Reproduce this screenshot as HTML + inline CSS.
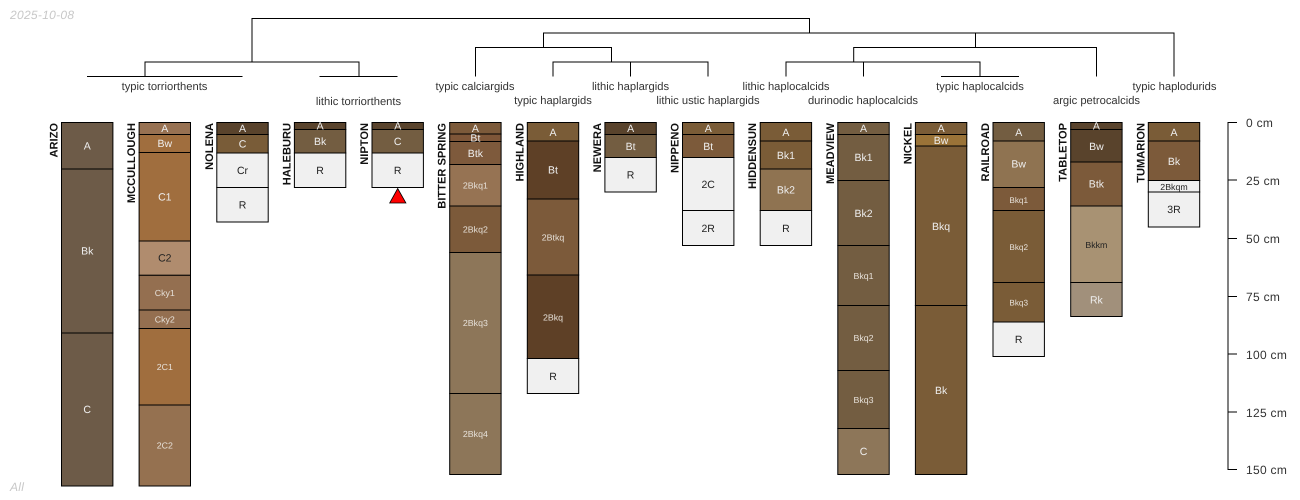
<!DOCTYPE html>
<html><head><meta charset="utf-8"><style>
html,body{margin:0;padding:0;background:#fff;width:1300px;height:500px;overflow:hidden}
svg{display:block;font-family:"Liberation Sans",Arial,sans-serif;text-rendering:geometricPrecision}
.h rect{stroke:#000;stroke-width:1}
.h text{font-size:10.5px;fill:#eee;text-anchor:middle}
.h text.s{font-size:8.8px;fill:#e6e0d8}
.h text.d{fill:#222}
.h text.n{font-size:11.1px;font-weight:bold;text-anchor:end;fill:#111}
.t{font-size:11.2px;fill:#333;text-anchor:middle}
.a{font-size:12px;fill:#333;letter-spacing:.3px}
.i{font-size:12px;font-style:italic;fill:#c8c8c8;letter-spacing:.3px}
.l{stroke:#000;stroke-width:1;fill:none}
</style></head><body>
<svg width="1300" height="500" viewBox="0 0 1300 500" xmlns="http://www.w3.org/2000/svg">
<text class="i" x="10" y="19">2025-10-08</text>
<text class="i" x="10" y="491">All</text>

<!-- dendrogram -->
<path class="l" d="M252 62V18.5H809.5V33M145 76.5V62H359V76.5M87 76.5H242.5M319.5 76.5H397.5
M543.5 47.5V33H1174V76.5M475.5 76.5V47.5H611.5V62M553 76.5V62H708V76.5
M853.7 62V47.5H1096.5V76.5M786 76.5V62H980V76.5M941 76.5H1019"/>
<path class="l" d="M630.5 76.5V62H669.5"/>
<path class="l" d="M975.5 47.5V33H1075"/>
<path class="l" d="M863.5 76.5V62H921.5"/>

<text class="t" x="164.5" y="90">typic torriorthents</text>
<text class="t" x="358.5" y="105">lithic torriorthents</text>
<text class="t" x="475" y="90">typic calciargids</text>
<text class="t" x="553" y="104">typic haplargids</text>
<text class="t" x="630.5" y="90">lithic haplargids</text>
<text class="t" x="708" y="104">lithic ustic haplargids</text>
<text class="t" x="786" y="90">lithic haplocalcids</text>
<text class="t" x="863" y="104">durinodic haplocalcids</text>
<text class="t" x="980" y="90">typic haplocalcids</text>
<text class="t" x="1096.5" y="104">argic petrocalcids</text>
<text class="t" x="1174.5" y="90">typic haplodurids</text>

<!-- ARIZO -->
<g class="h" transform="translate(61.5,0)">
<rect y="122.5" width="51.4" height="46.5" fill="#6d5b48"/><rect y="169" width="51.4" height="164" fill="#6d5b48"/><rect y="333" width="51.4" height="153" fill="#6d5b48"/>
<text x="25.7" y="149.3">A</text><text x="25.7" y="254.5">Bk</text><text x="25.7" y="413">C</text>
<text class="n" transform="translate(-4,123) rotate(-90)">ARIZO</text></g>

<!-- MCCULLOUGH -->
<g class="h" transform="translate(139.1,0)">
<rect y="122.5" width="51.4" height="12" fill="#977152"/><rect y="134.5" width="51.4" height="18" fill="#a06e3e"/><rect y="152.5" width="51.4" height="88.5" fill="#a06e3e"/><rect y="241" width="51.4" height="34.3" fill="#b08c6e"/><rect y="275.3" width="51.4" height="34.7" fill="#946f50"/><rect y="310" width="51.4" height="18.5" fill="#946f50"/><rect y="328.5" width="51.4" height="76.5" fill="#a06e3e"/><rect y="405" width="51.4" height="81" fill="#957150"/>
<text x="25.7" y="132">A</text><text x="25.7" y="147">Bw</text><text x="25.7" y="200.3">C1</text><text class="d" x="25.7" y="261.6">C2</text><text class="s" x="25.7" y="296">Cky1</text><text class="s" x="25.7" y="322.7">Cky2</text><text class="s" x="25.7" y="370">2C1</text><text class="s" x="25.7" y="448.5">2C2</text>
<text class="n" transform="translate(-4,123) rotate(-90)">MCCULLOUGH</text></g>

<!-- NOLENA -->
<g class="h" transform="translate(216.8,0)">
<rect y="122.5" width="51.4" height="12" fill="#59432c"/><rect y="134.5" width="51.4" height="18.5" fill="#795c38"/><rect y="153" width="51.4" height="34.5" fill="#f0f0f0"/><rect y="187.5" width="51.4" height="34.5" fill="#f0f0f0"/>
<text x="25.7" y="132">A</text><text x="25.7" y="147.5">C</text><text class="d" x="25.7" y="174">Cr</text><text class="d" x="25.7" y="208.5">R</text>
<text class="n" transform="translate(-4,123) rotate(-90)">NOLENA</text></g>

<!-- HALEBURU -->
<g class="h" transform="translate(294.4,0)">
<rect y="122.5" width="51.4" height="7" fill="#59432c"/><rect y="129.5" width="51.4" height="23.5" fill="#735d41"/><rect y="153" width="51.4" height="34.5" fill="#f0f0f0"/>
<text x="25.7" y="129.5">A</text><text x="25.7" y="145">Bk</text><text class="d" x="25.7" y="174">R</text>
<text class="n" transform="translate(-4,123) rotate(-90)">HALEBURU</text></g>

<!-- NIPTON -->
<g class="h" transform="translate(372,0)">
<rect y="122.5" width="51.4" height="7" fill="#59432c"/><rect y="129.5" width="51.4" height="23.5" fill="#735d41"/><rect y="153" width="51.4" height="34.5" fill="#f0f0f0"/>
<text x="25.7" y="129.5">A</text><text x="25.7" y="145">C</text><text class="d" x="25.7" y="174">R</text>
<text class="n" transform="translate(-4,123) rotate(-90)">NIPTON</text></g>
<polygon points="397.7,188.5 389.7,203 405.9,203" fill="#f00" stroke="#000" stroke-width=".8"/>

<!-- BITTER SPRING -->
<g class="h" transform="translate(449.7,0)">
<rect y="122.5" width="51.4" height="11.5" fill="#7c5a3a"/><rect y="134" width="51.4" height="7.5" fill="#7e5638"/><rect y="141.5" width="51.4" height="23" fill="#7e5a3c"/><rect y="164.5" width="51.4" height="41.5" fill="#967353"/><rect y="206" width="51.4" height="46.5" fill="#7c5a3a"/><rect y="252.5" width="51.4" height="141" fill="#8d7659"/><rect y="393.5" width="51.4" height="81" fill="#8d7659"/>
<text x="25.7" y="132">A</text><text x="25.7" y="141.5">Bt</text><text x="25.7" y="156.8">Btk</text><text class="s" x="25.7" y="188.5">2Bkq1</text><text class="s" x="25.7" y="232.5">2Bkq2</text><text class="s" x="25.7" y="326">2Bkq3</text><text class="s" x="25.7" y="437">2Bkq4</text>
<text class="n" transform="translate(-4,123) rotate(-90)">BITTER SPRING</text></g>

<!-- HIGHLAND -->
<g class="h" transform="translate(527.3,0)">
<rect y="122.5" width="51.4" height="18.5" fill="#7a5c37"/><rect y="141" width="51.4" height="58" fill="#5e4026"/><rect y="199" width="51.4" height="76" fill="#7c5a3a"/><rect y="275" width="51.4" height="83.5" fill="#5e4026"/><rect y="358.5" width="51.4" height="35" fill="#f0f0f0"/>
<text x="25.7" y="136">A</text><text x="25.7" y="173.5">Bt</text><text class="s" x="25.7" y="240.5">2Btkq</text><text class="s" x="25.7" y="320.5">2Bkq</text><text class="d" x="25.7" y="380">R</text>
<text class="n" transform="translate(-4,123) rotate(-90)">HIGHLAND</text></g>

<!-- NEWERA -->
<g class="h" transform="translate(604.9,0)">
<rect y="122.5" width="51.4" height="12" fill="#59432c"/><rect y="134.5" width="51.4" height="23" fill="#735d41"/><rect y="157.5" width="51.4" height="34.5" fill="#f0f0f0"/>
<text x="25.7" y="132">A</text><text x="25.7" y="150">Bt</text><text class="d" x="25.7" y="178.5">R</text>
<text class="n" transform="translate(-4,123) rotate(-90)">NEWERA</text></g>

<!-- NIPPENO -->
<g class="h" transform="translate(682.5,0)">
<rect y="122.5" width="51.4" height="12" fill="#7a5c37"/><rect y="134.5" width="51.4" height="23" fill="#7c5a3a"/><rect y="157.5" width="51.4" height="53" fill="#f0f0f0"/><rect y="210.5" width="51.4" height="35" fill="#f0f0f0"/>
<text x="25.7" y="132">A</text><text x="25.7" y="150">Bt</text><text class="d" x="25.7" y="188">2C</text><text class="d" x="25.7" y="232">2R</text>
<text class="n" transform="translate(-4,123) rotate(-90)">NIPPENO</text></g>

<!-- HIDDENSUN -->
<g class="h" transform="translate(760.2,0)">
<rect y="122.5" width="51.4" height="18.5" fill="#7a5c37"/><rect y="141" width="51.4" height="28" fill="#7a5c37"/><rect y="169" width="51.4" height="41.5" fill="#8f7351"/><rect y="210.5" width="51.4" height="35" fill="#f0f0f0"/>
<text x="25.7" y="136">A</text><text x="25.7" y="158.8">Bk1</text><text x="25.7" y="193.5">Bk2</text><text class="d" x="25.7" y="232">R</text>
<text class="n" transform="translate(-4,123) rotate(-90)">HIDDENSUN</text></g>

<!-- MEADVIEW -->
<g class="h" transform="translate(837.8,0)">
<rect y="122.5" width="51.4" height="12" fill="#735d41"/><rect y="134.5" width="51.4" height="46" fill="#735d41"/><rect y="180.5" width="51.4" height="65" fill="#735d41"/><rect y="245.5" width="51.4" height="60" fill="#735d41"/><rect y="305.5" width="51.4" height="65" fill="#735d41"/><rect y="370.5" width="51.4" height="58" fill="#735d41"/><rect y="428.5" width="51.4" height="46" fill="#8d7659"/>
<text x="25.7" y="132">A</text><text x="25.7" y="161">Bk1</text><text x="25.7" y="217">Bk2</text><text class="s" x="25.7" y="279">Bkq1</text><text class="s" x="25.7" y="341">Bkq2</text><text class="s" x="25.7" y="403">Bkq3</text><text x="25.7" y="455">C</text>
<text class="n" transform="translate(-4,123) rotate(-90)">MEADVIEW</text></g>

<!-- NICKEL -->
<g class="h" transform="translate(915.4,0)">
<rect y="122.5" width="51.4" height="12" fill="#7a5c37"/><rect y="134.5" width="51.4" height="11.5" fill="#9a7338"/><rect y="146" width="51.4" height="159.5" fill="#7a5c37"/><rect y="305.5" width="51.4" height="169" fill="#7a5c37"/>
<text x="25.7" y="132">A</text><text x="25.7" y="144">Bw</text><text x="25.7" y="230">Bkq</text><text x="25.7" y="394">Bk</text>
<text class="n" transform="translate(-4,123) rotate(-90)">NICKEL</text></g>

<!-- RAILROAD -->
<g class="h" transform="translate(993,0)">
<rect y="122.5" width="51.4" height="18.5" fill="#735d41"/><rect y="141" width="51.4" height="46.5" fill="#8f7351"/><rect y="187.5" width="51.4" height="23" fill="#7c5a3a"/><rect y="210.5" width="51.4" height="72" fill="#7a5c37"/><rect y="282.5" width="51.4" height="39.5" fill="#7a5c37"/><rect y="322" width="51.4" height="34.5" fill="#f0f0f0"/>
<text x="25.7" y="136">A</text><text x="25.7" y="167.5">Bw</text><text class="s" x="25.7" y="203" style="font-size:8.2px">Bkq1</text><text class="s" x="25.7" y="250" style="font-size:8.2px">Bkq2</text><text class="s" x="25.7" y="305.5" style="font-size:8.2px">Bkq3</text><text class="d" x="25.7" y="343">R</text>
<text class="n" transform="translate(-4,123) rotate(-90)">RAILROAD</text></g>

<!-- TABLETOP -->
<g class="h" transform="translate(1070.7,0)">
<rect y="122.5" width="51.4" height="7" fill="#59432c"/><rect y="129.5" width="51.4" height="32.5" fill="#59432c"/><rect y="162" width="51.4" height="44" fill="#7c5a3a"/><rect y="206" width="51.4" height="76.5" fill="#a89273"/><rect y="282.5" width="51.4" height="34" fill="#a1907b"/>
<text x="25.7" y="129.5">A</text><text x="25.7" y="150">Bw</text><text x="25.7" y="187.5">Btk</text><text class="s d" x="25.7" y="248">Bkkm</text><text x="25.7" y="303.5">Rk</text>
<text class="n" transform="translate(-4,123) rotate(-90)">TABLETOP</text></g>

<!-- TUMARION -->
<g class="h" transform="translate(1148.3,0)">
<rect y="122.5" width="51.4" height="18.5" fill="#7a5c37"/><rect y="141" width="51.4" height="39.5" fill="#7c5a3a"/><rect y="180.5" width="51.4" height="11.5" fill="#f0f0f0"/><rect y="192" width="51.4" height="35" fill="#f0f0f0"/>
<text x="25.7" y="136">A</text><text x="25.7" y="165">Bk</text><text class="s d" x="25.7" y="190">2Bkqm</text><text class="d" x="25.7" y="213">3R</text>
<text class="n" transform="translate(-4,123) rotate(-90)">TUMARION</text></g>

<!-- axis -->
<path class="l" d="M1237 122.5H1228V469.5H1237M1228 180H1237M1228 238.5H1237M1228 296.5H1237M1228 354H1237M1228 412H1237"/>
<text class="a" x="1246" y="127">0 cm</text>
<text class="a" x="1246" y="185">25 cm</text>
<text class="a" x="1246" y="243">50 cm</text>
<text class="a" x="1246" y="301">75 cm</text>
<text class="a" x="1246" y="359">100 cm</text>
<text class="a" x="1246" y="417">125 cm</text>
<text class="a" x="1246" y="474">150 cm</text>
</svg>
</body></html>
